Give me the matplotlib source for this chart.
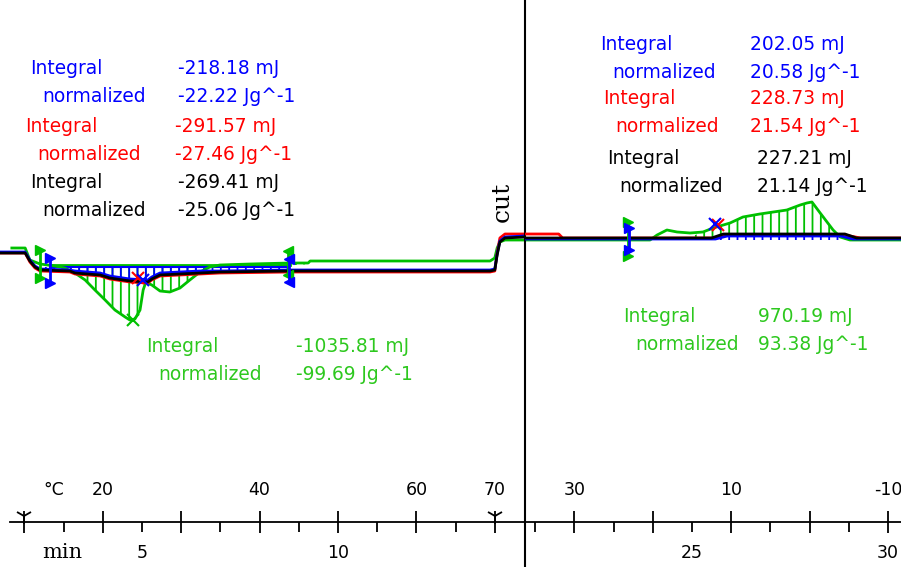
import numpy as np
import matplotlib.pyplot as plt

plt.rcParams['font.family'] = 'DejaVu Sans'
plt.rcParams['hatch.linewidth'] = 1.3

W, H = 901, 567
GREEN = '#00c000'
GREEN_TXT = '#2dc81e'
BLUE = '#0000ff'
RED = '#ff0000'

# heat flow (mW) vs time (min), segment 1 = heating, segment 2 = cooling
t1 = [1.38, 2.02, 2.14, 2.27, 2.40, 3.16, 3.29, 3.93, 4.18, 4.69, 5.15, 5.25, 5.46, 6.48, 6.99, 8.78, 13.88, 14.00, 14.06, 14.13, 14.26, 14.75]
black_y1 = [-0.3, -0.3, -1.1, -1.7, -2.0, -2.1, -2.3, -2.5, -2.8, -3.1, -3.2, -2.9, -2.5, -2.3, -2.2, -2.1, -2.1, -2.0, -0.5, 0.8, 1.2, 1.3]
blue_y1 = [-0.2, -0.2, -1.0, -1.6, -1.9, -2.0, -2.1, -2.3, -2.6, -2.9, -3.0, -2.7, -2.3, -2.1, -2.1, -2.0, -2.0, -1.9, -0.4, 0.9, 1.3, 1.4]
red_y1 = [-0.3, -0.3, -1.2, -1.8, -2.1, -2.2, -2.4, -2.6, -2.9, -3.2, -3.3, -3.0, -2.6, -2.4, -2.3, -2.2, -2.2, -2.1, -0.3, 1.2, 1.6, 1.6]

green_t1 = [1.68, 2.02, 2.14, 2.40, 2.78, 3.03, 3.29, 3.55, 3.80, 4.06, 4.31, 4.57, 4.69, 4.82, 4.95, 5.03, 5.10, 5.25,
            5.46, 5.71, 5.97, 6.22, 6.48, 6.73, 6.99, 7.76, 8.78, 9.24, 9.29, 13.88, 14.00, 14.06, 14.13, 14.26, 14.75]
green_y1 = [0.2, 0.2, -1.0, -1.4, -1.6, -1.8, -2.3, -3.0, -4.0, -5.0, -6.0, -6.7, -7.0, -6.9, -6.0, -4.0, -3.2, -3.5,
            -4.1, -4.2, -3.8, -3.0, -2.2, -1.7, -1.5, -1.4, -1.3, -1.3, -1.1, -1.1, -0.8, 0.2, 0.8, 1.0, 1.0]

black_t2 = [20.72, 25.5, 25.8, 28.9, 29.2, 30.33]
black_y2 = [1.2, 1.2, 1.6, 1.6, 1.2, 1.2]
red_t2 = [20.72, 21.6, 21.7, 25.6, 25.9, 28.9, 29.3, 30.33]
red_y2 = [1.6, 1.6, 1.2, 1.2, 1.5, 1.5, 1.2, 1.2]
blue_t2 = [20.72, 25.6, 25.9, 28.8, 29.1, 30.33]
blue_y2 = [1.1, 1.1, 1.4, 1.4, 1.1, 1.1]
green_t2 = [20.72, 23.93, 24.11, 24.36, 24.62, 24.95, 25.28, 25.54, 25.97, 26.30, 26.73, 27.42, 27.76, 27.93, 28.06,
            28.27, 28.60, 28.78, 29.03, 30.33]
green_y2 = [1.0, 1.0, 1.5, 2.0, 1.8, 1.7, 1.8, 2.2, 2.7, 3.3, 3.6, 4.0, 4.5, 4.7, 4.8, 3.7, 2.0, 1.3, 1.0, 1.0]

# integration limits and baselines
green_lim1, green_base1 = [2.65, 8.78], -1.5
blue_lim1, blue_base1 = [2.65, 8.72], -1.7
green_lim2, green_base2 = [25.28, 28.78], 1.3
blue_lim2, blue_base2 = [25.5, 29.0], 1.0

# peak markers
peaks1 = [(4.90, -2.8, RED), (5.03, -3.0, BLUE), (4.77, -7.0, GREEN)]
peaks2 = [(25.66, 2.5, RED), (25.58, 2.6, BLUE)]

# integration results (colour, integral, normalized, x px, y px)
results = [
    (BLUE, 'Integral', '-218.18 mJ', '-22.22 Jg^-1', 30, 68, 178),
    (RED, 'Integral', '-291.57 mJ', '-27.46 Jg^-1', 25, 126, 175),
    ('black', 'Integral', '-269.41 mJ', '-25.06 Jg^-1', 30, 182, 178),
    (BLUE, 'Integral', '202.05 mJ', '20.58 Jg^-1', 600, 45, 750),
    (RED, 'Integral', '228.73 mJ', '21.54 Jg^-1', 603, 99, 750),
    ('black', 'Integral', '227.21 mJ', '21.14 Jg^-1', 607, 159, 757),
    (GREEN_TXT, 'Integral', '-1035.81 mJ', '-99.69 Jg^-1', 146, 347, 296),
    (GREEN_TXT, 'Integral', '970.19 mJ', '93.38 Jg^-1', 623, 316, 758),
]

temp_left = [20, 40, 60, 70]      # heating 5 K/min, T = 5 t
temp_right = [30, 10, -10]        # cooling 5 K/min, T = 140 - 5 t
time_left = [5, 10]
time_right = [25, 30]
rate = 5.0

fig = plt.figure(figsize=(W / 100, H / 100), dpi=100)
cut_px = 524.5
axL = fig.add_axes([0, 0, cut_px / W, 1])
axR = fig.add_axes([cut_px / W, 0, 1 - cut_px / W, 1])
axL.set_xlim(1.378, 14.758)
axR.set_xlim(20.727, 30.332)
axis_y = -27.2

for ax in (axL, axR):
    ax.set_ylim(-31.7, 25.0)
    ax.patch.set_visible(False)
    for s in ('top', 'right', 'left'):
        ax.spines[s].set_visible(False)
    ax.spines['bottom'].set_position(('data', axis_y))
    ax.spines['bottom'].set_linewidth(1.3)
    ax.tick_params(axis='y', left=False, labelleft=False)
    ax.tick_params(axis='x', which='major', direction='inout', length=16, width=1.3, labelbottom=False)
    ax.tick_params(axis='x', which='minor', direction='out', length=7, width=1.3)

axR.spines['left'].set_visible(True)
axR.spines['left'].set_linewidth(1.5)
axL.spines['bottom'].set_bounds(1.63, 14.758)

axL.set_xticks(np.arange(2, 15, 2))
axL.set_xticks(np.arange(3, 14, 2), minor=True)
axR.set_xticks(np.arange(22, 31, 2))
axR.set_xticks(np.arange(21, 30, 2), minor=True)

# segment start markers
axL.plot([2, 14], [axis_y + 0.6] * 2, ls='none', marker='1', ms=12, mew=1.3, color='black', clip_on=False)

# hatched integration areas
gt1 = np.array(green_t1)
gt2 = np.array(green_t2)
bt2 = np.array(blue_t2)
axL.fill_between(green_t1, green_base1, green_y1, where=(gt1 >= green_lim1[0]) & (gt1 <= green_lim1[1]),
                 interpolate=True, facecolor='none', edgecolor=GREEN, hatch='||', linewidth=0, zorder=1)
axL.fill_between(t1[3:16], blue_base1, blue_y1[3:16], facecolor='none', edgecolor=BLUE, hatch='||', linewidth=0, zorder=1)
axR.fill_between(green_t2, green_base2, green_y2, where=(gt2 >= green_lim2[0]) & (gt2 <= green_lim2[1]),
                 interpolate=True, facecolor='none', edgecolor=GREEN, hatch='||', linewidth=0, zorder=1)
axR.fill_between(blue_t2, blue_base2, blue_y2, where=(bt2 >= blue_lim2[0]) & (bt2 <= blue_lim2[1]),
                 interpolate=True, facecolor='none', edgecolor=BLUE, hatch='||', linewidth=0, zorder=1)

axL.plot(green_lim1, [green_base1] * 2, color=GREEN, lw=2, zorder=2)
axL.plot(blue_lim1, [blue_base1] * 2, color=BLUE, lw=1.5, zorder=2)

# curves
axL.plot(green_t1, green_y1, color=GREEN, lw=2, zorder=2)
axL.plot(t1, red_y1, color=RED, lw=2, zorder=3)
axL.plot(t1, blue_y1, color=BLUE, lw=2, zorder=3)
axL.plot(t1, black_y1, color='black', lw=2, zorder=4)

axR.plot(green_t2, green_y2, color=GREEN, lw=2, zorder=2)
axR.plot(red_t2, red_y2, color=RED, lw=2, zorder=3)
axR.plot(blue_t2, blue_y2, color=BLUE, lw=2, zorder=3)
axR.plot(black_t2, black_y2, color='black', lw=2, zorder=4)

# integration limit markers
def limit_marker(ax, t, y0, y1, color, mk):
    ax.plot([t, t], [y0, y1], color=color, lw=2, zorder=5)
    ax.plot([t, t], [y0, y1], ls='none', marker=mk, ms=7, color=color, zorder=5)

limit_marker(axL, 2.40, 0.0, -2.8, GREEN, '>')
limit_marker(axL, 2.65, -0.8, -3.3, BLUE, '>')
limit_marker(axL, 8.72, -0.1, -2.5, GREEN, '<')
limit_marker(axL, 8.74, -0.9, -3.2, BLUE, '<')
limit_marker(axR, 23.37, 2.8, -0.6, GREEN, '>')
limit_marker(axR, 23.40, 2.2, 0.0, BLUE, '>')

for t, y, c in peaks1:
    axL.plot(t, y, marker='x', ms=9, mew=1.5, color=c, zorder=6)
for t, y, c in peaks2:
    axR.plot(t, y, marker='x', ms=9, mew=1.5, color=c, zorder=6)

# axis labels
temp_y = 1 - 490 / H
time_y = 1 - 553 / H
for T in temp_left:
    axL.text(T / rate, temp_y, str(T), transform=axL.get_xaxis_transform(), ha='center', va='center', fontsize=12.5, clip_on=False)
for T in temp_right:
    axR.text((140 - T) / rate, temp_y, str(T), transform=axR.get_xaxis_transform(), ha='center', va='center', fontsize=12.5, clip_on=False)
for m in time_left:
    axL.text(m, time_y, str(m), transform=axL.get_xaxis_transform(), ha='center', va='center', fontsize=12.5, clip_on=False)
for m in time_right:
    axR.text(m, time_y, str(m), transform=axR.get_xaxis_transform(), ha='center', va='center', fontsize=12.5, clip_on=False)

fig.text(54 / W, temp_y, '°C', ha='center', va='center', fontsize=12.5)
fig.text(62 / W, time_y, 'min', ha='center', va='center', fontsize=15, family='DejaVu Serif')
fig.text(502 / W, 1 - 202 / H, 'cut', ha='center', va='center', rotation=90, fontsize=18, family='DejaVu Serif')

for c, lab, integ, norm, x, y, xv in results:
    fig.text(x / W, 1 - y / H, lab, color=c, ha='left', va='center', fontsize=13.4)
    fig.text((x + 12) / W, 1 - (y + 28) / H, 'normalized', color=c, ha='left', va='center', fontsize=13.4)
    fig.text(xv / W, 1 - y / H, integ, color=c, ha='left', va='center', fontsize=13.4)
    fig.text(xv / W, 1 - (y + 28) / H, norm, color=c, ha='left', va='center', fontsize=13.4)

fig.savefig('out.png', dpi=100)
